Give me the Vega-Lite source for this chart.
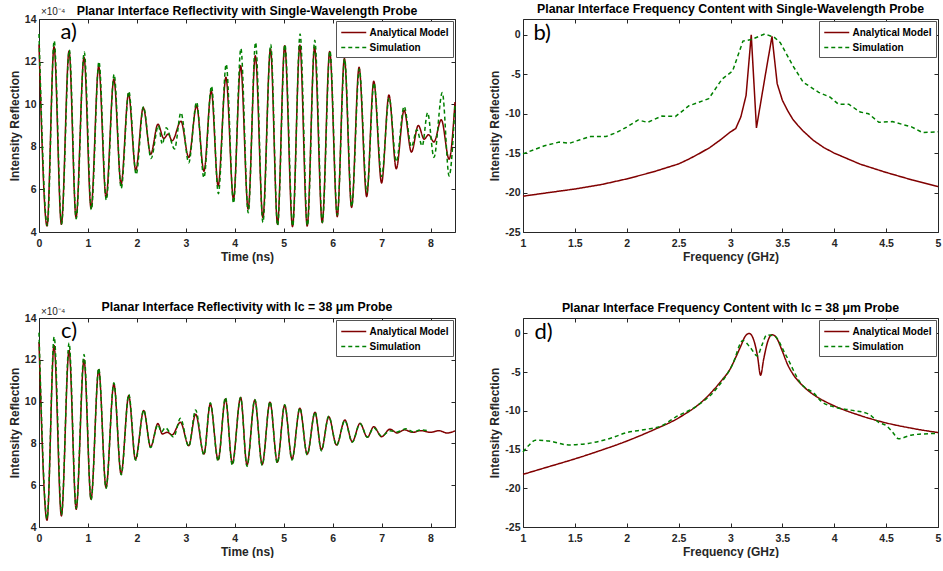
{
  "$schema": "https://vega.github.io/schema/vega-lite/v6.json",
  "background": "white",
  "padding": {"left": 7, "top": 2, "right": 0, "bottom": 0},
  "config": {
    "font": "Liberation Sans",
    "view": {"stroke": "#262626", "strokeWidth": 1},
    "axis": {"grid": false, "domain": false, "ticks": true, "tickSize": -4, "tickColor": "#262626", "labelFont": "Liberation Sans", "labelFontWeight": "bold", "labelFontSize": 10.5, "labelColor": "#262626", "titleFont": "Liberation Sans", "titleFontWeight": "bold", "titleFontSize": 12, "titleColor": "#262626", "labelFlush": false, "labelOverlap": false},
    "axisX": {"labelPadding": 10, "titlePadding": 3},
    "axisY": {"labelPadding": 7, "titlePadding": 3},
    "title": {"font": "Liberation Sans", "fontSize": 12.3, "fontWeight": "bold", "color": "#000000", "offset": 3, "anchor": "middle"},
    "legend": {"orient": "top-right", "offset": 2, "fillColor": "white", "strokeColor": "#555555", "padding": 4, "labelFont": "Liberation Sans", "labelFontWeight": "bold", "labelFontSize": 10, "labelColor": "#000000", "symbolType": "M-1,0H3", "symbolSize": 156, "symbolStrokeWidth": 1.6, "rowPadding": 2, "labelOffset": 14.5}
  },
  "resolve": {
    "scale": {"color": "independent", "strokeDash": "independent"},
    "legend": {"color": "independent", "strokeDash": "independent"}
  },
  "datasets": {
    "a": [
      {"x":0,"y":12.8,"s":"Analytical Model"},{"x":0.164,"y":4.28,"s":"Analytical Model"},{"x":0.307,"y":12.7,"s":"Analytical Model"},{"x":0.457,"y":4.36,"s":"Analytical Model"},{"x":0.614,"y":12.5,"s":"Analytical Model"},{"x":0.757,"y":4.68,"s":"Analytical Model"},{"x":0.92,"y":12.2,"s":"Analytical Model"},{"x":1.063,"y":5.11,"s":"Analytical Model"},{"x":1.22,"y":11.78,"s":"Analytical Model"},{"x":1.37,"y":5.62,"s":"Analytical Model"},{"x":1.53,"y":11.18,"s":"Analytical Model"},{"x":1.677,"y":6.23,"s":"Analytical Model"},{"x":1.83,"y":10.5,"s":"Analytical Model"},{"x":1.977,"y":6.9,"s":"Analytical Model"},{"x":2.13,"y":9.84,"s":"Analytical Model"},{"x":2.283,"y":7.65,"s":"Analytical Model"},{"x":2.43,"y":9.06,"s":"Analytical Model"},{"x":2.55,"y":8.39,"s":"Analytical Model"},{"x":2.64,"y":8.6,"s":"Analytical Model"},{"x":2.72,"y":8.28,"s":"Analytical Model"},{"x":2.9,"y":9.2,"s":"Analytical Model"},{"x":3.06,"y":7.5,"s":"Analytical Model"},{"x":3.22,"y":9.93,"s":"Analytical Model"},{"x":3.37,"y":6.85,"s":"Analytical Model"},{"x":3.52,"y":10.63,"s":"Analytical Model"},{"x":3.66,"y":6.16,"s":"Analytical Model"},{"x":3.82,"y":11.26,"s":"Analytical Model"},{"x":3.974,"y":5.54,"s":"Analytical Model"},{"x":4.12,"y":11.8,"s":"Analytical Model"},{"x":4.274,"y":5.07,"s":"Analytical Model"},{"x":4.42,"y":12.28,"s":"Analytical Model"},{"x":4.574,"y":4.68,"s":"Analytical Model"},{"x":4.73,"y":12.59,"s":"Analytical Model"},{"x":4.874,"y":4.36,"s":"Analytical Model"},{"x":5.02,"y":12.75,"s":"Analytical Model"},{"x":5.18,"y":4.25,"s":"Analytical Model"},{"x":5.33,"y":12.78,"s":"Analytical Model"},{"x":5.48,"y":4.28,"s":"Analytical Model"},{"x":5.63,"y":12.67,"s":"Analytical Model"},{"x":5.787,"y":4.44,"s":"Analytical Model"},{"x":5.94,"y":12.48,"s":"Analytical Model"},{"x":6.094,"y":4.72,"s":"Analytical Model"},{"x":6.24,"y":12.15,"s":"Analytical Model"},{"x":6.387,"y":5.15,"s":"Analytical Model"},{"x":6.54,"y":11.73,"s":"Analytical Model"},{"x":6.695,"y":5.66,"s":"Analytical Model"},{"x":6.84,"y":11.08,"s":"Analytical Model"},{"x":7.0,"y":6.3,"s":"Analytical Model"},{"x":7.15,"y":10.43,"s":"Analytical Model"},{"x":7.3,"y":6.97,"s":"Analytical Model"},{"x":7.46,"y":9.72,"s":"Analytical Model"},{"x":7.61,"y":7.75,"s":"Analytical Model"},{"x":7.75,"y":9.0,"s":"Analytical Model"},{"x":7.87,"y":8.36,"s":"Analytical Model"},{"x":7.96,"y":8.57,"s":"Analytical Model"},{"x":8.07,"y":8.23,"s":"Analytical Model"},{"x":8.22,"y":9.27,"s":"Analytical Model"},{"x":8.38,"y":7.42,"s":"Analytical Model"},{"x":8.5,"y":10.1,"s":"Analytical Model"},
      {"x":0,"y":13.3,"s":"Simulation"},{"x":0.17,"y":4.3,"s":"Simulation"},{"x":0.31,"y":12.98,"s":"Simulation"},{"x":0.46,"y":4.38,"s":"Simulation"},{"x":0.62,"y":12.55,"s":"Simulation"},{"x":0.76,"y":4.62,"s":"Simulation"},{"x":0.925,"y":12.45,"s":"Simulation"},{"x":1.07,"y":5.05,"s":"Simulation"},{"x":1.225,"y":12.0,"s":"Simulation"},{"x":1.375,"y":5.5,"s":"Simulation"},{"x":1.535,"y":11.4,"s":"Simulation"},{"x":1.68,"y":6.05,"s":"Simulation"},{"x":1.835,"y":10.6,"s":"Simulation"},{"x":1.985,"y":6.7,"s":"Simulation"},{"x":2.135,"y":9.88,"s":"Simulation"},{"x":2.29,"y":7.45,"s":"Simulation"},{"x":2.44,"y":9.0,"s":"Simulation"},{"x":2.52,"y":8.12,"s":"Simulation"},{"x":2.6,"y":8.9,"s":"Simulation"},{"x":2.77,"y":7.9,"s":"Simulation"},{"x":2.9,"y":9.6,"s":"Simulation"},{"x":3.06,"y":7.25,"s":"Simulation"},{"x":3.22,"y":10.1,"s":"Simulation"},{"x":3.37,"y":6.55,"s":"Simulation"},{"x":3.525,"y":10.85,"s":"Simulation"},{"x":3.665,"y":5.8,"s":"Simulation"},{"x":3.825,"y":11.88,"s":"Simulation"},{"x":3.975,"y":5.35,"s":"Simulation"},{"x":4.125,"y":12.62,"s":"Simulation"},{"x":4.275,"y":4.9,"s":"Simulation"},{"x":4.425,"y":12.9,"s":"Simulation"},{"x":4.575,"y":4.45,"s":"Simulation"},{"x":4.735,"y":12.8,"s":"Simulation"},{"x":4.875,"y":4.3,"s":"Simulation"},{"x":5.025,"y":12.8,"s":"Simulation"},{"x":5.185,"y":4.28,"s":"Simulation"},{"x":5.335,"y":13.3,"s":"Simulation"},{"x":5.485,"y":4.3,"s":"Simulation"},{"x":5.635,"y":13.0,"s":"Simulation"},{"x":5.79,"y":4.45,"s":"Simulation"},{"x":5.945,"y":12.5,"s":"Simulation"},{"x":6.095,"y":4.8,"s":"Simulation"},{"x":6.245,"y":12.12,"s":"Simulation"},{"x":6.39,"y":5.2,"s":"Simulation"},{"x":6.545,"y":11.65,"s":"Simulation"},{"x":6.7,"y":5.85,"s":"Simulation"},{"x":6.845,"y":11.0,"s":"Simulation"},{"x":7.0,"y":6.6,"s":"Simulation"},{"x":7.155,"y":10.3,"s":"Simulation"},{"x":7.3,"y":7.3,"s":"Simulation"},{"x":7.46,"y":9.9,"s":"Simulation"},{"x":7.61,"y":8.0,"s":"Simulation"},{"x":7.72,"y":8.8,"s":"Simulation"},{"x":7.83,"y":8.04,"s":"Simulation"},{"x":7.94,"y":9.6,"s":"Simulation"},{"x":8.07,"y":7.5,"s":"Simulation"},{"x":8.24,"y":10.55,"s":"Simulation"},{"x":8.38,"y":6.63,"s":"Simulation"},{"x":8.5,"y":10.0,"s":"Simulation"}
    ],
    "b": [
      {"x":1,"y":-20.46,"s":"Analytical Model"},{"x":1.25,"y":-20.0,"s":"Analytical Model"},{"x":1.5,"y":-19.55,"s":"Analytical Model"},{"x":1.75,"y":-19.0,"s":"Analytical Model"},{"x":2,"y":-18.27,"s":"Analytical Model"},{"x":2.25,"y":-17.4,"s":"Analytical Model"},{"x":2.5,"y":-16.37,"s":"Analytical Model"},{"x":2.6,"y":-15.75,"s":"Analytical Model"},{"x":2.7,"y":-15.05,"s":"Analytical Model"},{"x":2.8,"y":-14.3,"s":"Analytical Model"},{"x":2.9,"y":-13.35,"s":"Analytical Model"},{"x":3.0,"y":-12.3,"s":"Analytical Model"},{"x":3.05,"y":-11.9,"s":"Analytical Model"},{"x":3.1,"y":-10.4,"s":"Analytical Model"},{"x":3.15,"y":-7.7,"s":"Analytical Model"},{"x":3.2,"y":0,"s":"Analytical Model"},{"x":3.25,"y":-11.8,"s":"Analytical Model"},{"x":3.3,"y":-7.9,"s":"Analytical Model"},{"x":3.35,"y":-4.0,"s":"Analytical Model"},{"x":3.4,"y":-0.2,"s":"Analytical Model"},{"x":3.45,"y":-6.2,"s":"Analytical Model"},{"x":3.5,"y":-8.3,"s":"Analytical Model"},{"x":3.55,"y":-9.6,"s":"Analytical Model"},{"x":3.6,"y":-10.7,"s":"Analytical Model"},{"x":3.65,"y":-11.5,"s":"Analytical Model"},{"x":3.7,"y":-12.2,"s":"Analytical Model"},{"x":3.8,"y":-13.4,"s":"Analytical Model"},{"x":3.9,"y":-14.3,"s":"Analytical Model"},{"x":4.0,"y":-15.0,"s":"Analytical Model"},{"x":4.25,"y":-16.4,"s":"Analytical Model"},{"x":4.5,"y":-17.45,"s":"Analytical Model"},{"x":4.75,"y":-18.4,"s":"Analytical Model"},{"x":5,"y":-19.25,"s":"Analytical Model"},
      {"x":1,"y":-15.1,"s":"Simulation"},{"x":1.1,"y":-14.6,"s":"Simulation"},{"x":1.2,"y":-14.1,"s":"Simulation"},{"x":1.35,"y":-13.6,"s":"Simulation"},{"x":1.45,"y":-13.75,"s":"Simulation"},{"x":1.55,"y":-13.3,"s":"Simulation"},{"x":1.65,"y":-12.9,"s":"Simulation"},{"x":1.8,"y":-12.9,"s":"Simulation"},{"x":1.9,"y":-12.4,"s":"Simulation"},{"x":2.0,"y":-11.7,"s":"Simulation"},{"x":2.11,"y":-10.8,"s":"Simulation"},{"x":2.2,"y":-11.1,"s":"Simulation"},{"x":2.34,"y":-10.3,"s":"Simulation"},{"x":2.47,"y":-10.35,"s":"Simulation"},{"x":2.6,"y":-9.0,"s":"Simulation"},{"x":2.79,"y":-8.1,"s":"Simulation"},{"x":2.92,"y":-5.6,"s":"Simulation"},{"x":3.02,"y":-4.6,"s":"Simulation"},{"x":3.12,"y":-0.8,"s":"Simulation"},{"x":3.2,"y":-0.6,"s":"Simulation"},{"x":3.33,"y":0.1,"s":"Simulation"},{"x":3.42,"y":-0.3,"s":"Simulation"},{"x":3.48,"y":-1.0,"s":"Simulation"},{"x":3.6,"y":-3.9,"s":"Simulation"},{"x":3.7,"y":-6.0,"s":"Simulation"},{"x":3.85,"y":-7.3,"s":"Simulation"},{"x":3.96,"y":-7.9,"s":"Simulation"},{"x":4.04,"y":-8.8,"s":"Simulation"},{"x":4.14,"y":-8.8,"s":"Simulation"},{"x":4.25,"y":-9.8,"s":"Simulation"},{"x":4.33,"y":-10.0,"s":"Simulation"},{"x":4.43,"y":-11.1,"s":"Simulation"},{"x":4.56,"y":-11.0,"s":"Simulation"},{"x":4.75,"y":-11.7,"s":"Simulation"},{"x":4.85,"y":-12.4,"s":"Simulation"},{"x":5,"y":-12.3,"s":"Simulation"}
    ],
    "c": [
      {"x":0,"y":12.85,"s":"Analytical Model"},{"x":0.164,"y":4.32,"s":"Analytical Model"},{"x":0.307,"y":12.69,"s":"Analytical Model"},{"x":0.457,"y":4.53,"s":"Analytical Model"},{"x":0.614,"y":12.45,"s":"Analytical Model"},{"x":0.76,"y":4.85,"s":"Analytical Model"},{"x":0.92,"y":12.0,"s":"Analytical Model"},{"x":1.063,"y":5.33,"s":"Analytical Model"},{"x":1.22,"y":11.52,"s":"Analytical Model"},{"x":1.37,"y":5.89,"s":"Analytical Model"},{"x":1.53,"y":10.85,"s":"Analytical Model"},{"x":1.677,"y":6.53,"s":"Analytical Model"},{"x":1.834,"y":10.29,"s":"Analytical Model"},{"x":1.97,"y":7.23,"s":"Analytical Model"},{"x":2.14,"y":9.57,"s":"Analytical Model"},{"x":2.28,"y":7.83,"s":"Analytical Model"},{"x":2.43,"y":8.95,"s":"Analytical Model"},{"x":2.52,"y":8.45,"s":"Analytical Model"},{"x":2.62,"y":8.53,"s":"Analytical Model"},{"x":2.72,"y":8.41,"s":"Analytical Model"},{"x":2.89,"y":9.01,"s":"Analytical Model"},{"x":3.06,"y":7.89,"s":"Analytical Model"},{"x":3.2,"y":9.4,"s":"Analytical Model"},{"x":3.37,"y":7.49,"s":"Analytical Model"},{"x":3.5,"y":9.89,"s":"Analytical Model"},{"x":3.66,"y":7.22,"s":"Analytical Model"},{"x":3.81,"y":10.13,"s":"Analytical Model"},{"x":3.95,"y":7.04,"s":"Analytical Model"},{"x":4.12,"y":10.2,"s":"Analytical Model"},{"x":4.25,"y":6.96,"s":"Analytical Model"},{"x":4.41,"y":10.08,"s":"Analytical Model"},{"x":4.56,"y":6.99,"s":"Analytical Model"},{"x":4.72,"y":9.97,"s":"Analytical Model"},{"x":4.87,"y":7.1,"s":"Analytical Model"},{"x":5.02,"y":9.83,"s":"Analytical Model"},{"x":5.17,"y":7.25,"s":"Analytical Model"},{"x":5.33,"y":9.68,"s":"Analytical Model"},{"x":5.48,"y":7.49,"s":"Analytical Model"},{"x":5.64,"y":9.49,"s":"Analytical Model"},{"x":5.77,"y":7.69,"s":"Analytical Model"},{"x":5.92,"y":9.28,"s":"Analytical Model"},{"x":6.08,"y":7.92,"s":"Analytical Model"},{"x":6.25,"y":9.12,"s":"Analytical Model"},{"x":6.4,"y":8.08,"s":"Analytical Model"},{"x":6.56,"y":8.96,"s":"Analytical Model"},{"x":6.71,"y":8.29,"s":"Analytical Model"},{"x":6.84,"y":8.8,"s":"Analytical Model"},{"x":7.0,"y":8.32,"s":"Analytical Model"},{"x":7.17,"y":8.68,"s":"Analytical Model"},{"x":7.32,"y":8.5,"s":"Analytical Model"},{"x":7.47,"y":8.65,"s":"Analytical Model"},{"x":7.63,"y":8.53,"s":"Analytical Model"},{"x":7.8,"y":8.61,"s":"Analytical Model"},{"x":8.0,"y":8.53,"s":"Analytical Model"},{"x":8.17,"y":8.61,"s":"Analytical Model"},{"x":8.34,"y":8.5,"s":"Analytical Model"},{"x":8.5,"y":8.6,"s":"Analytical Model"},
      {"x":0,"y":13.3,"s":"Simulation"},{"x":0.165,"y":4.4,"s":"Simulation"},{"x":0.31,"y":13.1,"s":"Simulation"},{"x":0.46,"y":4.6,"s":"Simulation"},{"x":0.615,"y":12.8,"s":"Simulation"},{"x":0.76,"y":4.9,"s":"Simulation"},{"x":0.92,"y":12.25,"s":"Simulation"},{"x":1.065,"y":5.3,"s":"Simulation"},{"x":1.22,"y":11.6,"s":"Simulation"},{"x":1.37,"y":5.85,"s":"Simulation"},{"x":1.53,"y":10.9,"s":"Simulation"},{"x":1.68,"y":6.5,"s":"Simulation"},{"x":1.835,"y":10.35,"s":"Simulation"},{"x":1.975,"y":7.2,"s":"Simulation"},{"x":2.14,"y":9.6,"s":"Simulation"},{"x":2.28,"y":7.8,"s":"Simulation"},{"x":2.43,"y":8.9,"s":"Simulation"},{"x":2.5,"y":8.55,"s":"Simulation"},{"x":2.58,"y":8.75,"s":"Simulation"},{"x":2.75,"y":8.3,"s":"Simulation"},{"x":2.89,"y":9.2,"s":"Simulation"},{"x":3.06,"y":7.85,"s":"Simulation"},{"x":3.2,"y":9.6,"s":"Simulation"},{"x":3.37,"y":7.45,"s":"Simulation"},{"x":3.5,"y":9.95,"s":"Simulation"},{"x":3.66,"y":7.15,"s":"Simulation"},{"x":3.81,"y":10.2,"s":"Simulation"},{"x":3.95,"y":6.95,"s":"Simulation"},{"x":4.12,"y":10.2,"s":"Simulation"},{"x":4.25,"y":6.9,"s":"Simulation"},{"x":4.41,"y":10.1,"s":"Simulation"},{"x":4.56,"y":6.95,"s":"Simulation"},{"x":4.72,"y":10.0,"s":"Simulation"},{"x":4.87,"y":7.05,"s":"Simulation"},{"x":5.02,"y":9.85,"s":"Simulation"},{"x":5.17,"y":7.2,"s":"Simulation"},{"x":5.33,"y":9.7,"s":"Simulation"},{"x":5.48,"y":7.45,"s":"Simulation"},{"x":5.64,"y":9.5,"s":"Simulation"},{"x":5.77,"y":7.65,"s":"Simulation"},{"x":5.92,"y":9.3,"s":"Simulation"},{"x":6.08,"y":7.9,"s":"Simulation"},{"x":6.25,"y":9.1,"s":"Simulation"},{"x":6.4,"y":8.05,"s":"Simulation"},{"x":6.56,"y":8.95,"s":"Simulation"},{"x":6.71,"y":8.3,"s":"Simulation"},{"x":6.84,"y":8.75,"s":"Simulation"},{"x":7.0,"y":8.35,"s":"Simulation"},{"x":7.17,"y":8.6,"s":"Simulation"},{"x":7.32,"y":8.55,"s":"Simulation"},{"x":7.5,"y":8.7,"s":"Simulation"},{"x":7.65,"y":8.55,"s":"Simulation"},{"x":7.8,"y":8.65,"s":"Simulation"},{"x":7.95,"y":8.6,"s":"Simulation"}
    ],
    "d": [
      {"x":1,"y":-18.2,"s":"Analytical Model"},{"x":1.25,"y":-17.2,"s":"Analytical Model"},{"x":1.5,"y":-16.2,"s":"Analytical Model"},{"x":1.75,"y":-15.1,"s":"Analytical Model"},{"x":2,"y":-13.9,"s":"Analytical Model"},{"x":2.25,"y":-12.5,"s":"Analytical Model"},{"x":2.5,"y":-10.9,"s":"Analytical Model"},{"x":2.75,"y":-8.5,"s":"Analytical Model"},{"x":2.9,"y":-6.3,"s":"Analytical Model"},{"x":3.0,"y":-4.5,"s":"Analytical Model"},{"x":3.05,"y":-3.1,"s":"Analytical Model"},{"x":3.1,"y":-1.6,"s":"Analytical Model"},{"x":3.14,"y":-0.4,"s":"Analytical Model"},{"x":3.18,"y":0,"s":"Analytical Model"},{"x":3.22,"y":-0.7,"s":"Analytical Model"},{"x":3.26,"y":-2.9,"s":"Analytical Model"},{"x":3.29,"y":-5.4,"s":"Analytical Model"},{"x":3.32,"y":-3.3,"s":"Analytical Model"},{"x":3.36,"y":-1.0,"s":"Analytical Model"},{"x":3.4,"y":-0.15,"s":"Analytical Model"},{"x":3.44,"y":-0.5,"s":"Analytical Model"},{"x":3.5,"y":-2.3,"s":"Analytical Model"},{"x":3.55,"y":-4.0,"s":"Analytical Model"},{"x":3.6,"y":-5.2,"s":"Analytical Model"},{"x":3.7,"y":-6.8,"s":"Analytical Model"},{"x":3.8,"y":-7.9,"s":"Analytical Model"},{"x":3.9,"y":-8.7,"s":"Analytical Model"},{"x":4,"y":-9.35,"s":"Analytical Model"},{"x":4.25,"y":-10.6,"s":"Analytical Model"},{"x":4.5,"y":-11.55,"s":"Analytical Model"},{"x":4.75,"y":-12.25,"s":"Analytical Model"},{"x":5,"y":-12.8,"s":"Analytical Model"},
      {"x":1,"y":-15.3,"s":"Simulation"},{"x":1.06,"y":-14.4,"s":"Simulation"},{"x":1.12,"y":-13.8,"s":"Simulation"},{"x":1.25,"y":-13.9,"s":"Simulation"},{"x":1.44,"y":-14.4,"s":"Simulation"},{"x":1.63,"y":-14.2,"s":"Simulation"},{"x":1.83,"y":-13.6,"s":"Simulation"},{"x":2.0,"y":-12.8,"s":"Simulation"},{"x":2.18,"y":-12.4,"s":"Simulation"},{"x":2.34,"y":-11.9,"s":"Simulation"},{"x":2.47,"y":-10.8,"s":"Simulation"},{"x":2.66,"y":-9.5,"s":"Simulation"},{"x":2.86,"y":-7.2,"s":"Simulation"},{"x":3.02,"y":-4.0,"s":"Simulation"},{"x":3.12,"y":-0.9,"s":"Simulation"},{"x":3.19,"y":-1.8,"s":"Simulation"},{"x":3.26,"y":-2.9,"s":"Simulation"},{"x":3.3,"y":-1.6,"s":"Simulation"},{"x":3.35,"y":-0.2,"s":"Simulation"},{"x":3.42,"y":-0.3,"s":"Simulation"},{"x":3.53,"y":-2.7,"s":"Simulation"},{"x":3.68,"y":-6.5,"s":"Simulation"},{"x":3.81,"y":-7.8,"s":"Simulation"},{"x":3.87,"y":-8.7,"s":"Simulation"},{"x":4.0,"y":-9.5,"s":"Simulation"},{"x":4.16,"y":-9.9,"s":"Simulation"},{"x":4.33,"y":-10.4,"s":"Simulation"},{"x":4.43,"y":-11.5,"s":"Simulation"},{"x":4.5,"y":-11.9,"s":"Simulation"},{"x":4.56,"y":-12.7,"s":"Simulation"},{"x":4.62,"y":-13.6,"s":"Simulation"},{"x":4.75,"y":-13.1,"s":"Simulation"},{"x":5,"y":-12.9,"s":"Simulation"}
    ]
  },
  "columns": 2,
  "spacing": {"row": 86, "column": 68},
  "bounds": "flush",
  "concat": [
    {
      "width": 416, "height": 213,
      "title": {"text": "Planar Interface Reflectivity with Single-Wavelength Probe", "offset": -10},
      "data": {"name": "a"},
      "layer": [
        {
          "mark": {"type": "line", "interpolate": "monotone", "strokeWidth": 1.5},
          "encoding": {
            "x": {"field": "x", "type": "quantitative", "scale": {"domain": [0, 8.5], "nice": false, "zero": false}, "axis": {"title": "Time (ns)", "values": [0,1,2,3,4,5,6,7,8], "labelExpr": "toString(datum.value)"}},
            "y": {"field": "y", "type": "quantitative", "scale": {"domain": [4, 14], "nice": false, "zero": false}, "axis": {"title": "Intensity Reflection", "values": [4,6,8,10,12,14], "labelExpr": "toString(datum.value)"}},
            "color": {"field": "s", "type": "nominal", "scale": {"domain": ["Analytical Model", "Simulation"], "range": ["#800000", "#008000"]}, "legend": {"title": null}},
            "strokeDash": {"field": "s", "type": "nominal", "scale": {"domain": ["Analytical Model", "Simulation"], "range": [[1, 0], [4, 3]]}, "legend": {"title": null}}
          }
        },
        {
          "mark": {"type": "point", "opacity": 0},
          "encoding": {
            "x": {"field": "x", "type": "quantitative", "axis": {"orient": "top", "labels": false, "title": null, "values": [0,1,2,3,4,5,6,7,8]}},
            "y": {"field": "y", "type": "quantitative", "axis": {"orient": "right", "labels": false, "title": null, "values": [4,6,8,10,12,14]}}
          }
        },
        {
          "data": {"values": [{"label": "a)"}]},
          "mark": {"type": "text", "font": "Lato", "fontSize": 22, "align": "left", "baseline": "alphabetic", "color": "#000000"},
          "encoding": {"x": {"datum": 0.44, "axis": null}, "y": {"datum": 13.06, "axis": null}, "text": {"field": "label"}}
        },
        {
          "data": {"values": [{"label": "×10⁻⁴"}]},
          "mark": {"type": "text", "fontSize": 10, "align": "left", "baseline": "alphabetic", "dy": -4, "color": "#262626"},
          "encoding": {"x": {"datum": 0.04, "axis": null}, "y": {"datum": 14, "axis": null}, "text": {"field": "label"}}
        }
      ],
      "resolve": {"axis": {"x": "independent", "y": "independent"}}
    },
    {
      "width": 415, "height": 213,
      "title": {"text": "Planar Interface Frequency Content with Single-Wavelength Probe"},
      "data": {"name": "b"},
      "layer": [
        {
          "mark": {"type": "line", "strokeWidth": 1.5},
          "encoding": {
            "x": {"field": "x", "type": "quantitative", "scale": {"domain": [1, 5], "nice": false, "zero": false}, "axis": {"title": "Frequency (GHz)", "values": [1,1.5,2,2.5,3,3.5,4,4.5,5], "labelExpr": "toString(datum.value)"}},
            "y": {"field": "y", "type": "quantitative", "scale": {"domain": [-25, 2], "nice": false, "zero": false}, "axis": {"title": "Intensity Reflection", "values": [-25,-20,-15,-10,-5,0], "labelExpr": "toString(datum.value)"}},
            "color": {"field": "s", "type": "nominal", "scale": {"domain": ["Analytical Model", "Simulation"], "range": ["#800000", "#008000"]}, "legend": {"title": null}},
            "strokeDash": {"field": "s", "type": "nominal", "scale": {"domain": ["Analytical Model", "Simulation"], "range": [[1, 0], [4, 3]]}, "legend": {"title": null}}
          }
        },
        {
          "mark": {"type": "point", "opacity": 0},
          "encoding": {
            "x": {"field": "x", "type": "quantitative", "axis": {"orient": "top", "labels": false, "title": null, "values": [1,1.5,2,2.5,3,3.5,4,4.5,5]}},
            "y": {"field": "y", "type": "quantitative", "axis": {"orient": "right", "labels": false, "title": null, "values": [-25,-20,-15,-10,-5,0]}}
          }
        },
        {
          "data": {"values": [{"label": "b)"}]},
          "mark": {"type": "text", "font": "Lato", "fontSize": 22, "align": "left", "baseline": "alphabetic", "color": "#000000"},
          "encoding": {"x": {"datum": 1.1, "axis": null}, "y": {"datum": -0.63, "axis": null}, "text": {"field": "label"}}
        }
      ],
      "resolve": {"axis": {"x": "independent", "y": "independent"}}
    },
    {
      "width": 416, "height": 209,
      "title": {"text": "Planar Interface Reflectivity with lc = 38 μm Probe", "offset": -6},
      "data": {"name": "c"},
      "layer": [
        {
          "mark": {"type": "line", "interpolate": "monotone", "strokeWidth": 1.5},
          "encoding": {
            "x": {"field": "x", "type": "quantitative", "scale": {"domain": [0, 8.5], "nice": false, "zero": false}, "axis": {"title": "Time (ns)", "values": [0,1,2,3,4,5,6,7,8], "labelExpr": "toString(datum.value)"}},
            "y": {"field": "y", "type": "quantitative", "scale": {"domain": [4, 14], "nice": false, "zero": false}, "axis": {"title": "Intensity Reflection", "values": [4,6,8,10,12,14], "labelExpr": "toString(datum.value)"}},
            "color": {"field": "s", "type": "nominal", "scale": {"domain": ["Analytical Model", "Simulation"], "range": ["#800000", "#008000"]}, "legend": {"title": null}},
            "strokeDash": {"field": "s", "type": "nominal", "scale": {"domain": ["Analytical Model", "Simulation"], "range": [[1, 0], [4, 3]]}, "legend": {"title": null}}
          }
        },
        {
          "mark": {"type": "point", "opacity": 0},
          "encoding": {
            "x": {"field": "x", "type": "quantitative", "axis": {"orient": "top", "labels": false, "title": null, "values": [0,1,2,3,4,5,6,7,8]}},
            "y": {"field": "y", "type": "quantitative", "axis": {"orient": "right", "labels": false, "title": null, "values": [4,6,8,10,12,14]}}
          }
        },
        {
          "data": {"values": [{"label": "c)"}]},
          "mark": {"type": "text", "font": "Lato", "fontSize": 22, "align": "left", "baseline": "alphabetic", "color": "#000000"},
          "encoding": {"x": {"datum": 0.45, "axis": null}, "y": {"datum": 13.04, "axis": null}, "text": {"field": "label"}}
        },
        {
          "data": {"values": [{"label": "×10⁻⁴"}]},
          "mark": {"type": "text", "fontSize": 10, "align": "left", "baseline": "alphabetic", "dy": -3, "color": "#262626"},
          "encoding": {"x": {"datum": 0.04, "axis": null}, "y": {"datum": 14, "axis": null}, "text": {"field": "label"}}
        }
      ],
      "resolve": {"axis": {"x": "independent", "y": "independent"}}
    },
    {
      "width": 415, "height": 209,
      "title": {"text": "Planar Interface Frequency Content with lc = 38 μm Probe"},
      "data": {"name": "d"},
      "layer": [
        {
          "mark": {"type": "line", "interpolate": "monotone", "strokeWidth": 1.5},
          "encoding": {
            "x": {"field": "x", "type": "quantitative", "scale": {"domain": [1, 5], "nice": false, "zero": false}, "axis": {"title": "Frequency (GHz)", "values": [1,1.5,2,2.5,3,3.5,4,4.5,5], "labelExpr": "toString(datum.value)"}},
            "y": {"field": "y", "type": "quantitative", "scale": {"domain": [-25, 2], "nice": false, "zero": false}, "axis": {"title": "Intensity Reflection", "values": [-25,-20,-15,-10,-5,0], "labelExpr": "toString(datum.value)"}},
            "color": {"field": "s", "type": "nominal", "scale": {"domain": ["Analytical Model", "Simulation"], "range": ["#800000", "#008000"]}, "legend": {"title": null}},
            "strokeDash": {"field": "s", "type": "nominal", "scale": {"domain": ["Analytical Model", "Simulation"], "range": [[1, 0], [4, 3]]}, "legend": {"title": null}}
          }
        },
        {
          "mark": {"type": "point", "opacity": 0},
          "encoding": {
            "x": {"field": "x", "type": "quantitative", "axis": {"orient": "top", "labels": false, "title": null, "values": [1,1.5,2,2.5,3,3.5,4,4.5,5]}},
            "y": {"field": "y", "type": "quantitative", "axis": {"orient": "right", "labels": false, "title": null, "values": [-25,-20,-15,-10,-5,0]}}
          }
        },
        {
          "data": {"values": [{"label": "d)"}]},
          "mark": {"type": "text", "font": "Lato", "fontSize": 22, "align": "left", "baseline": "alphabetic", "color": "#000000"},
          "encoding": {"x": {"datum": 1.11, "axis": null}, "y": {"datum": -0.73, "axis": null}, "text": {"field": "label"}}
        }
      ],
      "resolve": {"axis": {"x": "independent", "y": "independent"}}
    }
  ]
}
